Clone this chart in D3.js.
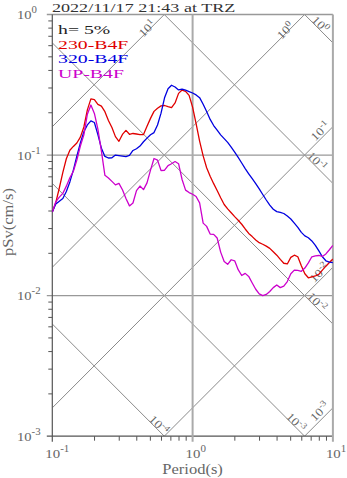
<!DOCTYPE html>
<html>
<head>
<meta charset="utf-8">
<script src="https://cdn.jsdelivr.net/npm/d3@7"></script>
<style>
  body { margin: 0; background: #fff; }
  svg { display: block; font-family: "Liberation Serif", "Times New Roman", serif; }
</style>
</head>
<body>
<svg id="chart" width="347" height="478"></svg>
<script>
// ---- data -------------------------------------------------------------
const title = "2022/11/17 21:43 at TRZ";
const dampingLabel = "h= 5%";
const seriesNames = ["230-B4F", "320-B4F", "UP-B4F"];

// natural periods (s)
const periods = [
  0.1, 0.1059, 0.1122, 0.1189, 0.1259, 0.1334, 0.1413, 0.1496, 0.1585, 0.1679,
  0.1778, 0.1884, 0.1995, 0.2113, 0.2239, 0.2371, 0.2512, 0.2661, 0.2818, 0.2985,
  0.3162, 0.335, 0.3548, 0.3758, 0.3981, 0.4217, 0.4467, 0.4732, 0.5012, 0.5309,
  0.5623, 0.5957, 0.631, 0.6683, 0.7079, 0.7499, 0.7943, 0.8414, 0.8913, 0.9441,
  1.0, 1.059, 1.122, 1.189, 1.259, 1.334, 1.413, 1.496, 1.585, 1.679,
  1.778, 1.884, 1.995, 2.113, 2.239, 2.371, 2.512, 2.661, 2.818, 2.985,
  3.162, 3.35, 3.548, 3.758, 3.981, 4.217, 4.467, 4.732, 5.012, 5.309,
  5.623, 5.957, 6.31, 6.683, 7.079, 7.499, 7.943, 8.414, 8.913, 9.441, 10
];

// pseudo velocity response (cm/s), 230-B4F
const sv230 = [
  0.0393, 0.0459, 0.0583, 0.0754, 0.0942, 0.1082, 0.1152, 0.1218, 0.1342, 0.1584,
  0.2095, 0.2509, 0.2484, 0.2293, 0.2227, 0.2035, 0.1764, 0.1571, 0.1353, 0.1253,
  0.1402, 0.1497, 0.1405, 0.1424, 0.1412, 0.1400, 0.1400, 0.1602, 0.1824, 0.2045,
  0.2155, 0.2238, 0.2252, 0.2209, 0.2173, 0.2347, 0.2746, 0.2902, 0.2838, 0.2656,
  0.2195, 0.1671, 0.1257, 0.0987, 0.0813, 0.0707, 0.0626, 0.0559, 0.0497, 0.0445,
  0.0414, 0.0389, 0.0365, 0.0344, 0.0322, 0.0298, 0.0277, 0.0263, 0.0249, 0.0238,
  0.0232, 0.0225, 0.0217, 0.0205, 0.0194, 0.0181, 0.0170, 0.0168, 0.0187, 0.0194,
  0.0189, 0.0163, 0.0143, 0.0134, 0.0136, 0.0138, 0.0142, 0.0152, 0.0162, 0.0172, 0.0182
];

// pseudo velocity response (cm/s), 320-B4F
const sv320 = [
  0.0393, 0.0448, 0.0469, 0.0491, 0.0551, 0.0644, 0.0782, 0.0984, 0.1220, 0.1464,
  0.1638, 0.1750, 0.1705, 0.1398, 0.1120, 0.0978, 0.0953, 0.0956, 0.1000, 0.0992,
  0.0984, 0.0976, 0.0995, 0.1078, 0.1109, 0.1159, 0.1243, 0.1320, 0.1395, 0.1445,
  0.1635, 0.1986, 0.2555, 0.2966, 0.3139, 0.3050, 0.2907, 0.2946, 0.2893, 0.2829,
  0.2765, 0.2678, 0.2560, 0.2301, 0.2039, 0.1793, 0.1622, 0.1502, 0.1393, 0.1310,
  0.1231, 0.1139, 0.1049, 0.0962, 0.0878, 0.0801, 0.0736, 0.0679, 0.0627, 0.0575,
  0.0524, 0.0479, 0.0440, 0.0412, 0.0396, 0.0391, 0.0384, 0.0368, 0.0351, 0.0328,
  0.0306, 0.0282, 0.0266, 0.0258, 0.0245, 0.0228, 0.0208, 0.0189, 0.0177, 0.0173, 0.0172
];

// pseudo velocity response (cm/s), UP-B4F
const svUP = [
  0.0393, 0.0465, 0.0502, 0.0534, 0.0601, 0.0689, 0.0767, 0.0921, 0.1159, 0.1393,
  0.1953, 0.2270, 0.1979, 0.1530, 0.1066, 0.0718, 0.0687, 0.0650, 0.0614, 0.0629,
  0.0566, 0.0491, 0.0435, 0.0456, 0.0558, 0.0602, 0.0568, 0.0634, 0.0782, 0.0945,
  0.0921, 0.0776, 0.0780, 0.0842, 0.0868, 0.0899, 0.0868, 0.0670, 0.0563, 0.0541,
  0.0526, 0.0507, 0.0457, 0.0328, 0.0311, 0.0274, 0.0273, 0.0257, 0.0204, 0.0175,
  0.0167, 0.0180, 0.0177, 0.0153, 0.0139, 0.0144, 0.0137, 0.0123, 0.0111, 0.0103,
  0.0100, 0.0102, 0.0107, 0.0114, 0.0119, 0.0114, 0.0117, 0.0126, 0.0143, 0.0152,
  0.0151, 0.0149, 0.0157, 0.0171, 0.0189, 0.0192, 0.0193, 0.0190, 0.0198, 0.0212, 0.0228
];

const xTickExps = [-1, 0, 1];          // period decades
const yTickExps = [-3, -2, -1, 0];     // pSv decades
const accelExps = [1, 0, -1, -2, -3];  // constant pSa lines (cm/s^2)
const dispExps = [0, -1, -2, -3, -4];  // constant Sd lines (cm)

// ---- styling ----------------------------------------------------------
const seriesColors = ["#e00000", "#0000e0", "#cc00cc"];
const margin = { left: 52.3, right: 332.9, top: 14.5, bottom: 436.2 };
const STRETCH = 1.18;
// label placement along / off each diagonal, measured back from its visible end
const accelLabelPos = { "1": [22, 4], "0": [25, 4], "-1": [12, 7.5], "-2": [13.5, 7.5], "-3": [12, 8.5] };
const dispLabelPos = { "0": [22, 6], "-1": [27, 6], "-2": [27, 6], "-3": [16, 5.5], "-4": [12, 6] };

const svg = d3.select("#chart");
const x = d3.scaleLog().domain([0.1, 10]).range([margin.left, margin.right]);
const y = d3.scaleLog().domain([1e-3, 1]).range([margin.bottom, margin.top]);
const [T0, T1] = x.domain();
const [V0, V1] = y.domain();

svg.append("defs").append("clipPath").attr("id", "plotClip")
  .append("rect")
  .attr("x", margin.left).attr("y", margin.top)
  .attr("width", margin.right - margin.left)
  .attr("height", margin.bottom - margin.top);

// power-of-ten label: "10" with a raised exponent
function powLabel(sel, exp, baseSize, supSize, rise) {
  sel.append("tspan").attr("font-size", baseSize).text("10");
  sel.append("tspan").attr("font-size", supSize).attr("dy", -rise).text(String(exp));
}

// ---- tripartite diagonals --------------------------------------------
const diag = svg.append("g").attr("clip-path", "url(#plotClip)");
const diagLabels = svg.append("g");
const TWO_PI = 2 * Math.PI;

function drawDiagonal(kind, exp) {
  const val = Math.pow(10, exp);
  let tA, tB, f;
  if (kind === "acc") {         // pSv = Sa * T / 2pi
    const c = val / TWO_PI;
    f = t => c * t;
    tA = Math.max(T0, V0 / c); tB = Math.min(T1, V1 / c);
  } else {                      // pSv = 2pi * Sd / T
    const c = TWO_PI * val;
    f = t => c / t;
    tA = Math.max(T0, c / V1); tB = Math.min(T1, c / V0);
  }
  if (tA >= tB) return;
  const p1 = [x(tA), y(f(tA))], p2 = [x(tB), y(f(tB))];
  diag.append("line")
    .attr("x1", p1[0]).attr("y1", p1[1]).attr("x2", p2[0]).attr("y2", p2[1])
    .attr("stroke", "#8a8a8a").attr("stroke-width", 1);

  const len = Math.hypot(p2[0] - p1[0], p2[1] - p1[1]);
  const u = [(p2[0] - p1[0]) / len, (p2[1] - p1[1]) / len];
  // normal pointing to the upper side of the line
  let n = [u[1], -u[0]];
  if (n[1] > 0) n = [-n[0], -n[1]];
  const [along, off] = (kind === "acc" ? accelLabelPos : dispLabelPos)[String(exp)];
  const cx = p2[0] - along * u[0] + off * n[0];
  const cy = p2[1] - along * u[1] + off * n[1];
  const ang = Math.atan2(u[1], u[0]) * 180 / Math.PI;
  const t = diagLabels.append("text")
    .attr("transform", `translate(${cx},${cy}) rotate(${ang}) scale(${STRETCH},1)`)
    .attr("text-anchor", "middle")
    .attr("dy", "0.35em")
    .attr("fill", "#666");
  powLabel(t, exp, 11.5, 8.5, 4.5);
}
accelExps.forEach(e => drawDiagonal("acc", e));
dispExps.forEach(e => drawDiagonal("disp", e));

// ---- frame, grid and ticks -------------------------------------------
const frame = svg.append("g");
// horizontal decade lines
yTickExps.forEach(e => {
  const yy = y(Math.pow(10, e));
  frame.append("line")
    .attr("x1", margin.left - 5.5).attr("x2", margin.right)
    .attr("y1", yy).attr("y2", yy)
    .attr("stroke", e === -3 ? "#555" : "#999")
    .attr("stroke-width", e === -3 ? 1.2 : 1.3);
});
// vertical decade lines
xTickExps.forEach(e => {
  const xx = x(Math.pow(10, e));
  frame.append("line")
    .attr("x1", xx).attr("x2", xx)
    .attr("y1", margin.top).attr("y2", margin.bottom + 5.5)
    .attr("stroke", e === -1 ? "#555" : "#aaa")
    .attr("stroke-width", e === -1 ? 1.2 : 2);
});
// minor ticks
for (let e = -3; e < 0; e++) {
  for (let m = 2; m <= 9; m++) {
    const yy = y(m * Math.pow(10, e));
    frame.append("line").attr("x1", margin.left - 4).attr("x2", margin.left)
      .attr("y1", yy).attr("y2", yy).attr("stroke", "#555").attr("stroke-width", 1);
  }
}
for (let e = -1; e < 1; e++) {
  for (let m = 2; m <= 9; m++) {
    const xx = x(m * Math.pow(10, e));
    frame.append("line").attr("x1", xx).attr("x2", xx)
      .attr("y1", margin.bottom).attr("y2", margin.bottom + 4.5)
      .attr("stroke", "#555").attr("stroke-width", 1);
  }
}

// tick labels
yTickExps.forEach(e => {
  const t = svg.append("text")
    .attr("transform", `translate(17,${y(Math.pow(10, e)) + 4.5}) scale(1.08,1)`)
    .attr("fill", "#666");
  powLabel(t, e, 13.5, 10, 6);
});
xTickExps.forEach(e => {
  const t = svg.append("text")
    .attr("transform", `translate(${x(Math.pow(10, e)) - 7},458) scale(1.1,1)`)
    .attr("fill", "#666");
  powLabel(t, e, 13.5, 10, 6);
});

// axis titles
svg.append("text")
  .attr("transform", `translate(${x(1)},474) scale(${STRETCH},1)`)
  .attr("text-anchor", "middle").attr("font-size", 14).attr("fill", "#666")
  .text("Period(s)");
svg.append("text")
  .attr("transform", `translate(13,222) rotate(-90) scale(${STRETCH},1)`)
  .attr("text-anchor", "middle").attr("font-size", 14).attr("fill", "#666")
  .text("pSv(cm/s)");

// ---- spectra ---------------------------------------------------------
const line = d3.line()
  .x(d => x(d[0]))
  .y(d => y(d[1]));
const curves = svg.append("g").attr("clip-path", "url(#plotClip)");
[sv230, sv320, svUP].forEach((vals, i) => {
  curves.append("path")
    .datum(periods.map((p, k) => [p, vals[k]]))
    .attr("d", line)
    .attr("fill", "none")
    .attr("stroke", seriesColors[i])
    .attr("stroke-width", 1.3)
    .attr("stroke-linejoin", "round");
});

// ---- title and legend -----------------------------------------------
svg.append("text")
  .attr("transform", `translate(52,12) scale(1.34,1)`)
  .attr("font-size", 13.5).attr("fill", "#333")
  .text(title);

const legendRows = [{ text: dampingLabel, color: "#222" }]
  .concat(seriesNames.map((s, i) => ({ text: s, color: seriesColors[i] })));
legendRows.forEach((r, i) => {
  svg.append("text")
    .attr("transform", `translate(58,${34 + i * 14.5}) scale(1.52,1)`)
    .attr("font-size", 13).attr("fill", r.color)
    .text(r.text);
});
</script>
</body>
</html>
